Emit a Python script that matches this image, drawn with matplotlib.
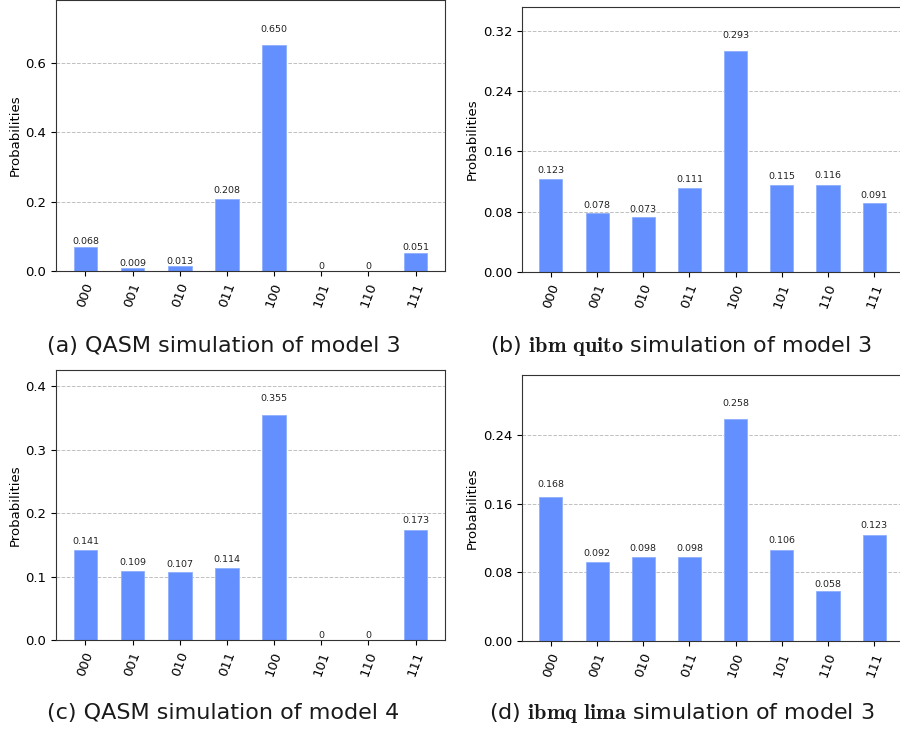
import matplotlib
matplotlib.use("Agg")
import matplotlib.pyplot as plt
import numpy as np

plt.rcParams['mathtext.fontset'] = 'custom'
plt.rcParams['mathtext.rm'] = 'DejaVu Sans'
plt.rcParams['mathtext.bf'] = 'cmb10'

states = ['000', '001', '010', '011', '100', '101', '110', '111']

probs_a = [0.068, 0.009, 0.013, 0.208, 0.650, 0.0, 0.0, 0.051]
probs_b = [0.123, 0.078, 0.073, 0.111, 0.293, 0.115, 0.116, 0.091]
probs_c = [0.141, 0.109, 0.107, 0.114, 0.355, 0.0, 0.0, 0.173]
probs_d = [0.168, 0.092, 0.098, 0.098, 0.258, 0.106, 0.058, 0.123]

yticks_a = [0.0, 0.2, 0.4, 0.6]
yticks_b = [0.00, 0.08, 0.16, 0.24, 0.32]
yticks_c = [0.0, 0.1, 0.2, 0.3, 0.4]
yticks_d = [0.00, 0.08, 0.16, 0.24]

captions = [
    r'(a) QASM simulation of model 3',
    r'(b) $\mathbf{ibm\ quito}$ simulation of model 3',
    r'(c) QASM simulation of model 4',
    r'(d) $\mathbf{ibmq\ lima}$ simulation of model 3',
]

W, H = 900, 732
fig = plt.figure(figsize=(9, 7.32), dpi=100)

# axes boxes in pixels: left, right, top, bottom
boxes = [
    (56, 445, 0, 271),
    (522, 903, 7, 272),
    (56, 445, 369.5, 640),
    (522, 903, 375, 641),
]
data = [probs_a, probs_b, probs_c, probs_d]
ticks = [yticks_a, yticks_b, yticks_c, yticks_d]
fmts = ['%.1f', '%.2f', '%.1f', '%.2f']
label_x = [-0.087, -0.113, -0.087, -0.113]
caption_pos = [(224, 346), (681, 346), (223, 713), (682, 713)]

for (l, r, t, b), vals, yt, fmt, lx, cap, (cx, cy) in zip(boxes, data, ticks, fmts, label_x, captions, caption_pos):
    ax = fig.add_axes([l / W, 1 - b / H, (r - l) / W, (b - t) / H])
    x = np.arange(len(states))
    ax.bar(x, vals, width=0.5, color='#648fff', edgecolor='#8fb0ff', linewidth=0.6, zorder=2)
    for xi, v in zip(x, vals):
        lab = '%.3f' % v if v > 0 else '0'
        ax.text(xi, 1.05 * v, lab, ha='center', va='bottom', fontsize=6.8, color='#222222')
    ax.set_ylim(0, 1.2 * max(vals))
    ax.set_yticks(yt)
    ax.set_yticklabels([fmt % v for v in yt], fontsize=9.5)
    ax.set_xticks(x)
    ax.set_xticklabels(states, rotation=70, fontsize=9.5)
    ax.yaxis.grid(True, linestyle='--', color='#c0c0c0', linewidth=0.7, zorder=0)
    ax.set_axisbelow(True)
    ax.set_ylabel('Probabilities', fontsize=9.5)
    ax.yaxis.set_label_coords(lx, 0.5)
    for s in ax.spines.values():
        s.set_color('#333333')
    fig.text(cx / W, 1 - cy / H, cap, ha='center', va='center', fontsize=16,
             family='DejaVu Sans', color='#1a1a1a')

fig.savefig('out.png', dpi=100)
